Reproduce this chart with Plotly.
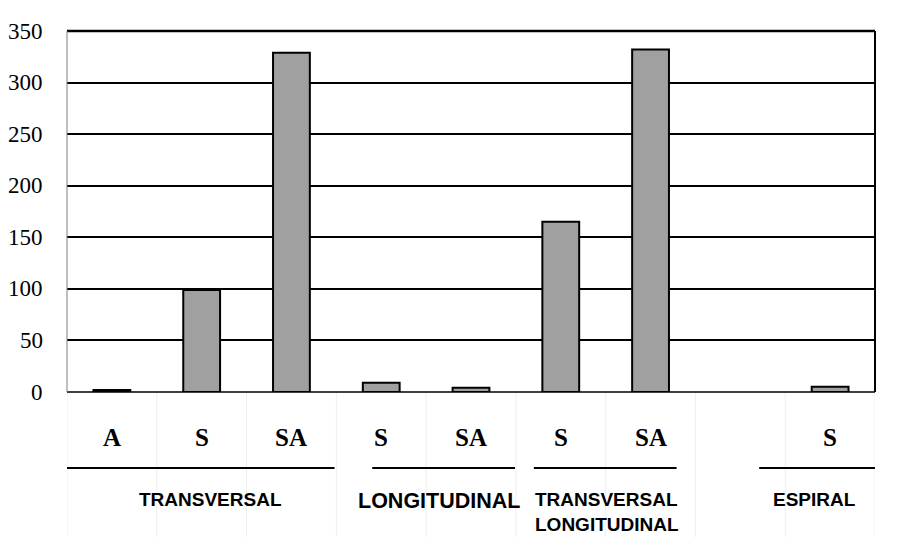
import plotly.graph_objects as go

# ---- data ----
sub_labels = ["A", "S", "SA", "S", "SA", "S", "SA", "", "S"]
values = [2, 99, 329, 9, 4, 165, 332, None, 5]
group_names = ["TRANSVERSAL", "LONGITUDINAL", "TRANSVERSAL<br>LONGITUDINAL", "ESPIRAL"]
group_font_sizes = [19, 21.5, 19, 19]
# underline extents (in category-index units) and label centres
group_line_x = [(-0.5, 2.48), (2.9, 4.49), (4.70, 6.29), (7.21, 8.5)]
group_label_x = [1.10, 3.64, 5.51, 7.83]
y_ticks = [0, 50, 100, 150, 200, 250, 300, 350]

W, H = 899, 537
ml, mr, mt, mb = 67, 24, 31, 145
ph = H - mt - mb

x_idx = list(range(len(values)))

fig = go.Figure()
fig.add_trace(go.Bar(
    x=x_idx, y=values, width=0.41,
    marker=dict(color="#a0a0a0", line=dict(color="black", width=2)),
    hoverinfo="skip",
))

shapes = []
annotations = []

# sub-category labels
for i, lab in enumerate(sub_labels):
    if lab:
        annotations.append(dict(
            x=i, y=0, xref="x", yref="paper", text=lab, showarrow=False,
            yanchor="middle", yshift=-45,
            font=dict(family="Liberation Serif", size=25, color="black", weight="bold"),
        ))

# faint slot dividers in the category area
for k in range(len(values) + 1):
    shapes.append(dict(
        type="line", xref="x", yref="paper", x0=k - 0.5, x1=k - 0.5,
        y0=0, y1=-mb / ph, line=dict(color="#efefef", width=1), layer="below",
    ))

# group underlines and labels
for (a, b), cx, name, fs in zip(group_line_x, group_label_x, group_names, group_font_sizes):
    shapes.append(dict(
        type="line", xref="x", yref="paper", x0=a, x1=b,
        y0=-76 / ph, y1=-76 / ph, line=dict(color="black", width=2),
    ))
    annotations.append(dict(
        x=cx, y=-95 / ph, xref="x", yref="paper", text=name, showarrow=False,
        yanchor="top", align="left",
        font=dict(family="Liberation Sans", size=fs, color="black", weight="bold"),
    ))

# y tick labels as serif text
for v in y_ticks:
    annotations.append(dict(
        x=0, y=v, xref="paper", yref="y", text=str(v), showarrow=False,
        xanchor="right", yanchor="middle", xshift=-22,
        font=dict(family="Liberation Serif", size=23, color="black"),
    ))

# right border, top line, left axis line
shapes.append(dict(type="line", xref="paper", yref="paper", x0=1, x1=1, y0=0, y1=1,
                   line=dict(color="black", width=2)))
shapes.append(dict(type="line", xref="paper", yref="paper", x0=0, x1=1, y0=1, y1=1,
                   line=dict(color="black", width=2.5)))
shapes.append(dict(type="line", xref="paper", yref="paper", x0=0, x1=0, y0=0, y1=1,
                   line=dict(color="#808080", width=1)))

fig.update_layout(
    width=W, height=H,
    margin=dict(l=ml, r=mr, t=mt, b=mb),
    plot_bgcolor="white", paper_bgcolor="white",
    showlegend=False,
    shapes=shapes, annotations=annotations,
    xaxis=dict(range=[-0.5, 8.5], showticklabels=False, showgrid=False,
               zeroline=False, showline=False, fixedrange=True),
    yaxis=dict(range=[0, 350], tickvals=y_ticks, showgrid=True,
               gridcolor="black", gridwidth=2, zeroline=True,
               zerolinecolor="#404040", zerolinewidth=1.5,
               showline=False, ticks="", showticklabels=False,
               fixedrange=True),
)

fig.write_html("out.html", config={"displayModeBar": False},
               post_script="document.body.style.margin='0';document.body.style.overflow='hidden';")
